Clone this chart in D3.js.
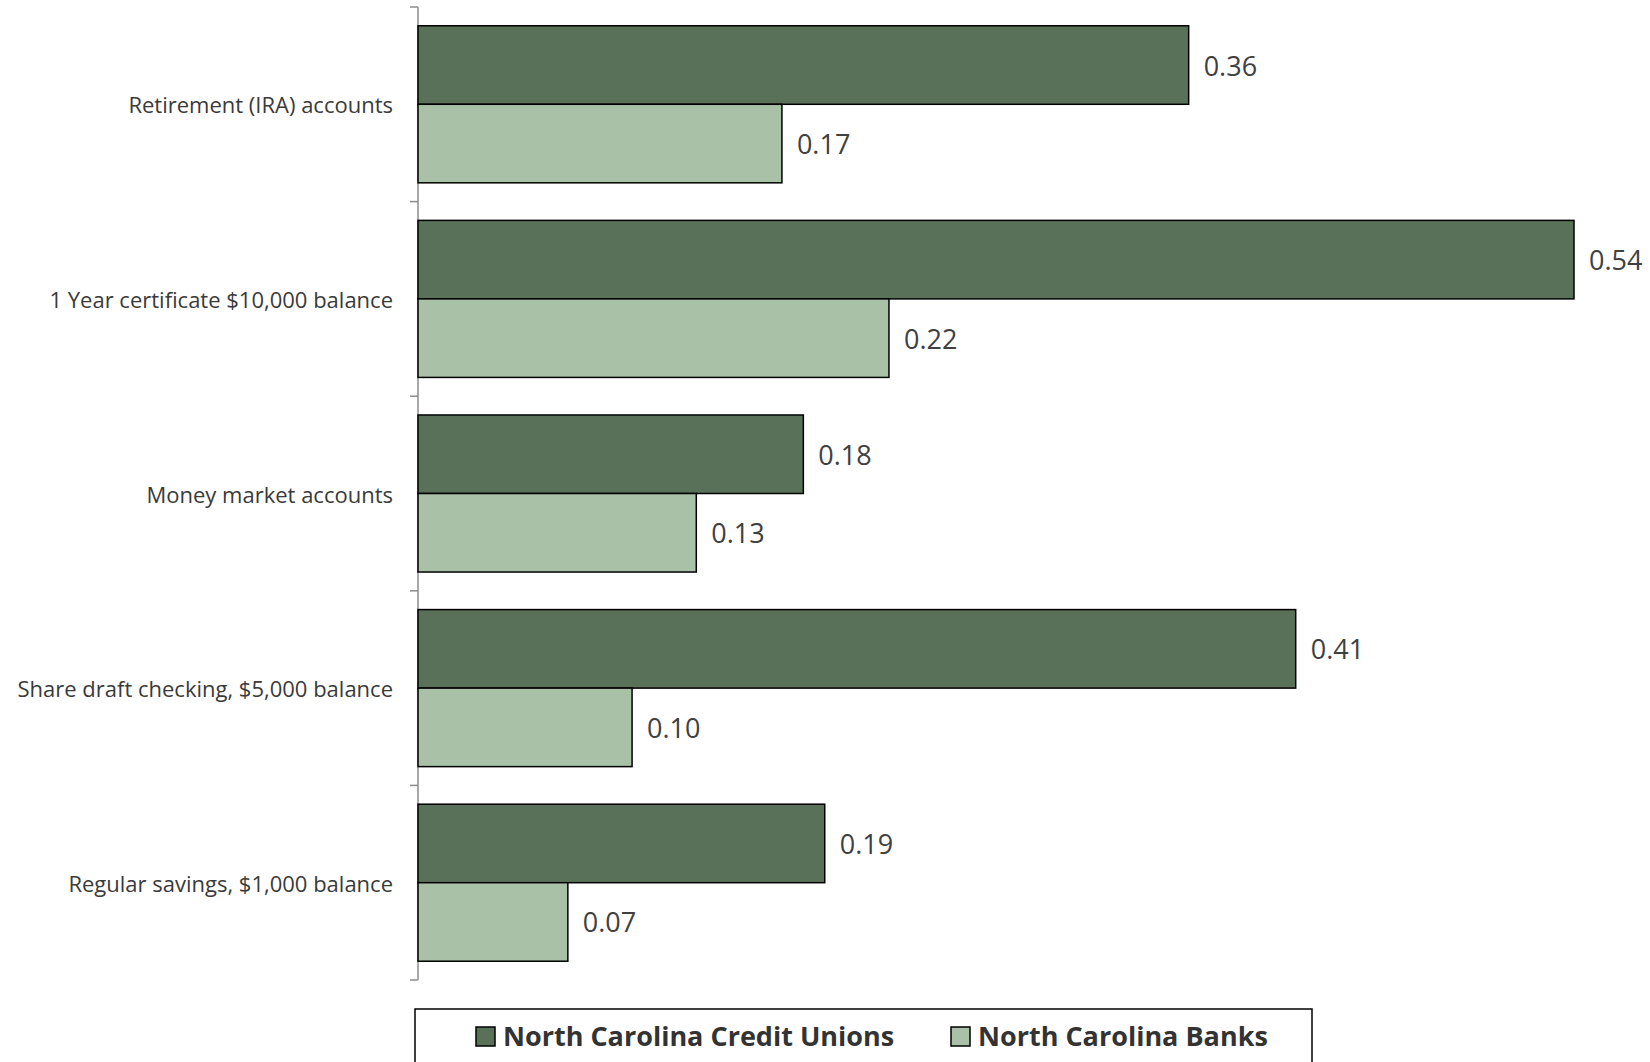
<!DOCTYPE html>
<html>
<head>
<meta charset="utf-8">
<script src="https://cdn.jsdelivr.net/npm/d3@7"></script>
<style>
  html, body { margin: 0; padding: 0; background: #fff; }
  svg { display: block; }
</style>
</head>
<body>
<svg id="chart" width="1650" height="1062"></svg>
<script>
// Average rate advantage by account type
const categories = [
  "Retirement (IRA) accounts",
  "1 Year certificate $10,000 balance",
  "Money market accounts",
  "Share draft checking, $5,000 balance",
  "Regular savings, $1,000 balance"
];
const seriesNames = ["North Carolina Credit Unions", "North Carolina Banks"];
const creditUnions = [0.36, 0.54, 0.18, 0.41, 0.19];
const banks = [0.17, 0.22, 0.13, 0.10, 0.07];
const seriesColors = ["#587158", "#a8c1a7"];

const rows = categories.map((c, i) => ({
  category: c,
  values: [creditUnions[i], banks[i]]
}));

const svg = d3.select("#chart");
const font = "'Open Sans', 'Noto Sans', sans-serif";
const textColor = "#404040";

const axisX = 418;
const x = d3.scaleLinear().domain([0, 0.54]).range([axisX, 1574]);
const y = d3.scaleBand().domain(categories).range([7, 980])
  .paddingInner(0.193).paddingOuter(0.0965);
const ySub = d3.scaleBand().domain([0, 1]).range([0, y.bandwidth()]);

// category axis with boundary ticks
const step = y.step();
const bounds = d3.range(categories.length + 1).map(i => 7 + i * step);
const axisG = svg.append("g");
axisG.append("line")
  .attr("x1", axisX).attr("x2", axisX)
  .attr("y1", bounds[0]).attr("y2", bounds[bounds.length - 1])
  .attr("stroke", "#8c8c8c").attr("stroke-width", 1.5);
axisG.selectAll("line.tick").data(bounds).join("line")
  .attr("class", "tick")
  .attr("x1", axisX - 8).attr("x2", axisX)
  .attr("y1", d => d).attr("y2", d => d)
  .attr("stroke", "#8c8c8c").attr("stroke-width", 1.5);

axisG.selectAll("text.cat").data(categories).join("text")
  .attr("class", "cat")
  .attr("x", 393)
  .attr("y", d => y(d) + y.bandwidth() / 2)
  .attr("text-anchor", "end")
  .attr("dominant-baseline", "central")
  .attr("font-family", font)
  .attr("font-size", 22)
  .attr("fill", "#3a3a3a")
  .text(d => d);

// bars
const groups = svg.selectAll("g.grp").data(rows).join("g")
  .attr("class", "grp")
  .attr("transform", d => `translate(0,${y(d.category)})`);

groups.selectAll("rect").data(d => d.values.map((v, k) => ({ v, k }))).join("rect")
  .attr("x", x(0))
  .attr("y", d => ySub(d.k))
  .attr("width", d => x(d.v) - x(0))
  .attr("height", ySub.bandwidth())
  .attr("fill", d => seriesColors[d.k])
  .attr("stroke", "#000")
  .attr("stroke-width", 1.5);

groups.selectAll("text").data(d => d.values.map((v, k) => ({ v, k }))).join("text")
  .attr("x", d => x(d.v) + 15)
  .attr("y", d => ySub(d.k) + ySub.bandwidth() / 2)
  .attr("dominant-baseline", "central")
  .attr("font-family", font)
  .attr("font-size", 27)
  .attr("fill", textColor)
  .text(d => d3.format(".2f")(d.v));

// legend
const legend = svg.append("g");
legend.append("rect")
  .attr("x", 415).attr("y", 1009)
  .attr("width", 897).attr("height", 80)
  .attr("fill", "#fff").attr("stroke", "#000").attr("stroke-width", 1.5);
const legendX = [476, 951];
const items = legend.selectAll("g.item").data(seriesNames).join("g")
  .attr("class", "item")
  .attr("transform", (d, i) => `translate(${legendX[i]},1027)`);
items.append("rect")
  .attr("x", 0).attr("y", 0).attr("width", 19).attr("height", 19)
  .attr("fill", (d, i) => seriesColors[i])
  .attr("stroke", "#000").attr("stroke-width", 1.5);
items.append("text")
  .attr("x", 27).attr("y", 8)
  .attr("dominant-baseline", "central")
  .attr("font-family", font)
  .attr("font-weight", "bold")
  .attr("font-size", 27)
  .attr("fill", "#333")
  .text(d => d);
</script>
</body>
</html>
